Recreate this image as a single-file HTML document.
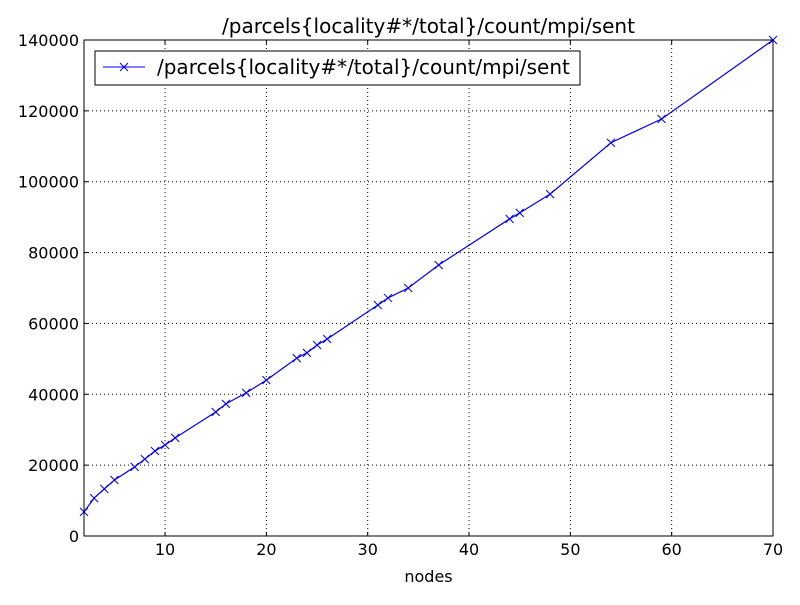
<!DOCTYPE html>
<html><head><meta charset="utf-8"><style>
body{margin:0;background:#fff;}
svg text{font-family:"DejaVu Sans","Liberation Sans",sans-serif;}
</style></head><body>
<svg id="chart" width="800" height="600" xmlns="http://www.w3.org/2000/svg">
<rect width="800" height="600" fill="#fff"/>
<g id="grid"></g>
<g id="series"></g>
<rect x="84" y="40" width="689" height="496" fill="none" stroke="#000" stroke-width="1"/>
<g id="ticks"></g>
<text x="428.5" y="33" font-size="20" text-anchor="middle">/parcels{locality#*/total}/count/mpi/sent</text>
<text x="428.5" y="582" font-size="16" text-anchor="middle">nodes</text>
<g>
<rect x="95" y="51" width="485" height="34" fill="#fff" stroke="#000" stroke-width="1"/>
<line x1="103" y1="67" x2="145" y2="67" stroke="#00f" stroke-width="1"/>
<path d="M120,63L128,71M120,71L128,63" stroke="#00f"/>
<text x="157" y="74" font-size="20">/parcels{locality#*/total}/count/mpi/sent</text>
</g>
</svg>
<script>
const xs=[2,3,4,5,7,8,9,10,11,15,16,18,20,23,24,25,26,31,32,34,37,44,45,48,54,59,70];
const ys=[6800,10700,13300,15800,19500,21700,24000,25700,27700,35000,37300,40400,44000,50200,51700,53900,55600,65200,67200,70000,76500,89500,91200,96500,111000,117700,140000];
const xTicks=[10,20,30,40,50,60,70];
const yTicks=[0,20000,40000,60000,80000,100000,120000,140000];
const L=84,R=773,T=40,B=536,xmin=2,xmax=70,ymin=0,ymax=140000;
const sx=v=>L+(v-xmin)/(xmax-xmin)*(R-L);
const sy=v=>B-(v-ymin)/(ymax-ymin)*(B-T);
const NS="http://www.w3.org/2000/svg";
function mk(t,a,p){const e=document.createElementNS(NS,t);for(const k in a)e.setAttribute(k,a[k]);p.appendChild(e);return e;}
const g=document.getElementById('grid'),tk=document.getElementById('ticks'),s=document.getElementById('series');
xTicks.forEach(v=>{const x=sx(v);
 if(v<xmax){const l=mk('line',{x1:x,y1:T,x2:x,y2:B,stroke:'#000','stroke-dasharray':'1,3'},g);
 
 }
 mk('line',{x1:x,y1:B,x2:x,y2:B-4,stroke:'#000'},tk);
 mk('line',{x1:x,y1:T,x2:x,y2:T+4,stroke:'#000'},tk);
 const t=mk('text',{x:x,y:B+19,'font-size':16,'text-anchor':'middle'},tk);t.textContent=v;
 
 });
yTicks.forEach(v=>{const y=sy(v);
 if(v>ymin&&v<ymax){const l=mk('line',{x1:L,y1:y,x2:R,y2:y,stroke:'#000','stroke-dasharray':'1,3'},g);
 
 }
 mk('line',{x1:L,y1:y,x2:L+4,y2:y,stroke:'#000'},tk);
 mk('line',{x1:R,y1:y,x2:R-4,y2:y,stroke:'#000'},tk);
 const t=mk('text',{x:L-5,y:y+6,'font-size':16,'text-anchor':'end'},tk);t.textContent=v;
 
 });
const pl=mk('polyline',{points:xs.map((x,i)=>sx(x)+','+sy(ys[i])).join(' '),fill:'none',stroke:'#00f','stroke-width':1.2},s);


xs.forEach((x,i)=>{const cx=sx(x),cy=sy(ys[i]);
 const m=mk('path',{d:`M${cx-4},${cy-4}L${cx+4},${cy+4}M${cx-4},${cy+4}L${cx+4},${cy-4}`,stroke:'#00f','stroke-width':1},s);
 
 });
</script>
</body></html>
